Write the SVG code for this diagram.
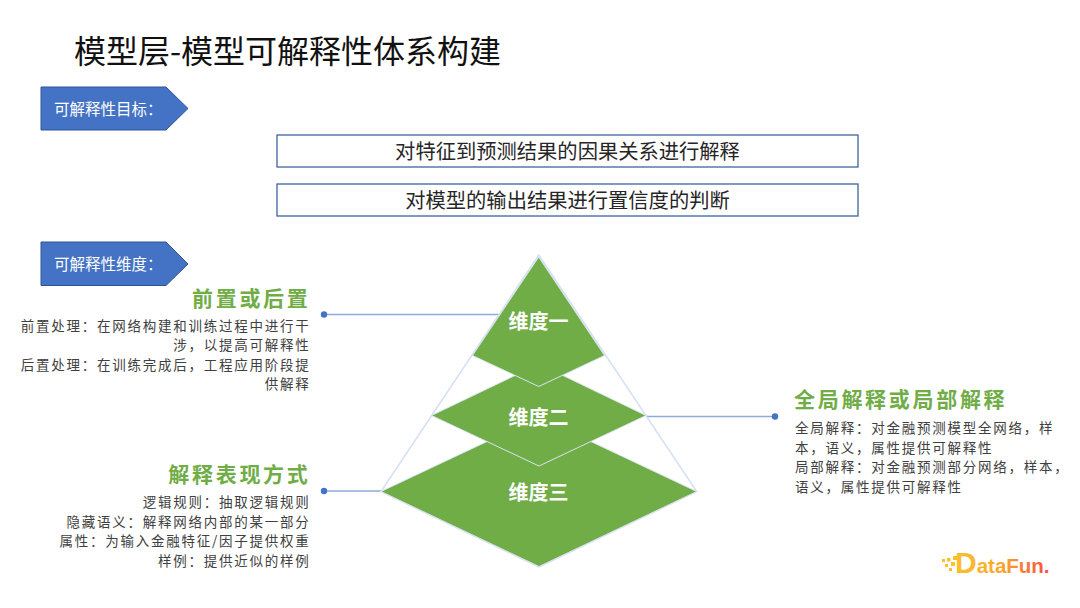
<svg xmlns="http://www.w3.org/2000/svg" width="1080" height="608" viewBox="0 0 1080 608">
<defs>
<linearGradient id="logo" gradientUnits="userSpaceOnUse" x1="955" y1="0" x2="1046" y2="0"><stop offset="0" stop-color="#fbc02d"/><stop offset="0.5" stop-color="#fba72f"/><stop offset="1" stop-color="#f4563f"/></linearGradient>
</defs>
<style>
text{font-family:"Noto Sans CJK SC","Noto Sans",sans-serif}
.tag{fill:#4472c4;stroke:#2f5597;stroke-width:1}
.tagt{fill:#fff;font-size:15.500px}
.box{fill:#fff;stroke:#2f5597;stroke-width:1.200}
.boxt{fill:#262626;font-size:20.300px;text-anchor:middle}
.lvl{fill:#70ad47;stroke:#dae3f3;stroke-width:1}
.lvlt{fill:#fff;font-size:20px;font-weight:700;text-anchor:middle}
.head{fill:#70ad47;font-size:21px;font-weight:700;letter-spacing:2.700px}
.body{fill:#404040;font-size:13.500px;letter-spacing:1.750px}
.r{text-anchor:end}
.conn{fill:none;stroke:#8faadc;stroke-width:1.400}
.dot{fill:#4472c4}
.lg{fill:url(#logo);font-weight:700;font-family:"Liberation Sans",sans-serif}
</style>
<rect width="1080" height="608" fill="#fff"/>
<text x="74" y="63" font-size="32" fill="#111">模型层-模型可解释性体系构建</text>
<g id="tag-goal"><polygon class="tag" points="41,87 166,87 188,108.500 166,130 41,130"/><text class="tagt" x="54" y="115">可解释性目标：</text></g>
<g id="goal-1"><rect class="box" x="277" y="135" width="581" height="32"/><text class="boxt" x="567.500" y="159">对特征到预测结果的因果关系进行解释</text></g>
<g id="goal-2"><rect class="box" x="277" y="184" width="581" height="32"/><text class="boxt" x="567.500" y="208">对模型的输出结果进行置信度的判断</text></g>
<g id="tag-dim"><polygon class="tag" points="41,242 166,242 188,264 166,285.500 41,285.500"/><text class="tagt" x="54" y="270">可解释性维度：</text></g>
<g id="connectors">
<path class="conn" d="M324 314.500H499"/>
<path class="conn" d="M646 416.500H775"/>
<path class="conn" d="M324 491H381"/>
<circle class="dot" cx="324" cy="314.500" r="3.200"/>
<circle class="dot" cx="775" cy="416.500" r="3.200"/>
<circle class="dot" cx="324" cy="491" r="3.200"/>
</g>
<g id="pyramid">
<polygon fill="none" stroke="#d5e0f2" stroke-width="1.500" points="538.700,255 696.700,491.500 539,567 381,491.500"/>
<g id="dim-3"><polygon class="lvl" points="381,491.500 539,417 696.700,491.500 539,566.500"/><text class="lvlt" x="538.500" y="500">维度三</text></g>
<g id="dim-2"><polygon class="lvl" points="431.500,415.500 539,364 646,415.500 539,466"/><text class="lvlt" x="538.500" y="425">维度二</text></g>
<g id="dim-1"><polygon class="lvl" points="538.700,257 604.500,355.500 538.700,386.500 472.500,355.500"/><text class="lvlt" x="538.500" y="329">维度一</text></g>
</g>
<g id="note-1">
<text class="head r" x="310.500" y="306">前置或后置</text>
<text class="body r" x="310.500" y="331">前置处理：在网络构建和训练过程中进行干</text>
<text class="body r" x="310.500" y="350">涉，以提高可解释性</text>
<text class="body r" x="310.500" y="370">后置处理：在训练完成后，工程应用阶段提</text>
<text class="body r" x="310.500" y="389">供解释</text>
</g>
<g id="note-3">
<text class="head r" x="310.500" y="482">解释表现方式</text>
<text class="body r" x="310.500" y="507">逻辑规则：抽取逻辑规则</text>
<text class="body r" x="310.500" y="527">隐藏语义：解释网络内部的某一部分</text>
<text class="body r" x="310.500" y="546">属性：为输入金融特征/因子提供权重</text>
<text class="body r" x="310.500" y="566">样例：提供近似的样例</text>
</g>
<g id="note-2">
<text class="head" x="794" y="407">全局解释或局部解释</text>
<text class="body" x="795" y="433">全局解释：对金融预测模型全网络，样</text>
<text class="body" x="795" y="453">本，语义，属性提供可解释性</text>
<text class="body" x="795" y="472">局部解释：对金融预测部分网络，样本，</text>
<text class="body" x="795" y="492">语义，属性提供可解释性</text>
</g>
<g id="logo-mark" fill="#fbc02d">
<rect x="942" y="559" width="3" height="3"/><rect x="945" y="564" width="3" height="3"/><rect x="947" y="558" width="3.500" height="3.500"/><rect x="951" y="562" width="4" height="4"/><rect x="953" y="556" width="4" height="4"/><rect x="949" y="568" width="3" height="3"/>
<text class="lg" x="955" y="573" font-size="20.500"><tspan font-size="30">D</tspan>ataFun.</text>
</g>
</svg>
